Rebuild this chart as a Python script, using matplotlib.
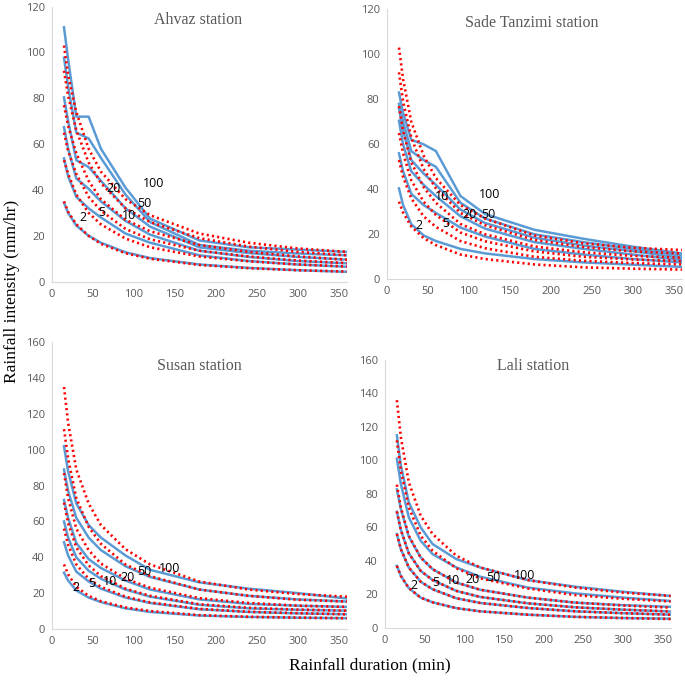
import matplotlib.pyplot as plt


durations = [15, 20, 30, 45, 60, 90, 120, 180, 240, 300, 360]
return_periods = ["2", "5", "10", "20", "50", "100"]

# observed (solid blue) and fitted (dotted red) intensities, rows = 2, 5, 10, 20, 50, 100 yr
ahvaz_obs = [
    [34.5, 30, 24.5, 20, 17, 12.8, 10.3, 7.5, 6, 5, 4.3],
    [53.8, 46, 37, 32, 28, 21, 17, 11.5, 9, 7.5, 6.5],
    [67.4, 58, 45, 40.5, 35, 26.5, 20.5, 13.5, 10.8, 9, 8],
    [80.4, 70, 53, 50, 44, 32, 24, 15, 12.5, 10.8, 9.6],
    [97.7, 85, 65, 62.5, 54, 38, 26, 16, 13.5, 12.3, 11.5],
    [111, 97, 72, 72, 58, 41, 27.5, 18, 15, 14, 13],
]
ahvaz_fit = [
    [35, 30.5, 25, 20, 16.5, 12.4, 10, 7.3, 5.9, 5, 4.4],
    [53, 47, 38, 30, 25, 18.8, 15, 11, 8.9, 7.5, 6.6],
    [65, 57, 47, 37, 31, 23, 18.5, 13.5, 11, 9.2, 8.1],
    [77, 68, 56, 44, 36, 27, 22, 16, 13, 11, 9.6],
    [92, 81, 66, 52, 43, 32, 26, 19, 15.3, 13, 11.5],
    [103, 90, 74, 58, 48, 36, 29, 21, 17, 14.5, 13],
]

sade_obs = [
    [40.4, 33, 24.5, 19.5, 17, 13.5, 11.5, 9, 7.5, 6.5, 5.5],
    [56, 48, 38, 33, 29.5, 23, 19, 13.5, 11, 9, 7.5],
    [70.5, 60, 48, 42, 37, 28, 22.5, 16.5, 13.5, 11, 8.5],
    [76, 66, 53, 47, 42, 31, 25, 18.5, 15, 12.5, 9.5],
    [78, 70, 57, 53, 50, 34, 27, 20, 16.5, 13.5, 10.5],
    [83, 74, 62, 60, 57, 37, 29, 22, 18, 14.5, 11.5],
]
sade_fit = [
    [34.5, 29.7, 23.5, 18.3, 15.2, 11, 9, 6.6, 5.3, 4.7, 4.3],
    [53, 45.5, 36, 28, 23.3, 17, 13.8, 10, 8.2, 7.2, 6.6],
    [65, 56, 44, 34.5, 28.6, 20.8, 16.9, 12.4, 10, 8.8, 8.1],
    [77, 66, 52, 41, 34, 24.6, 20, 14.6, 12, 10.4, 9.6],
    [92, 79, 63, 49, 40.5, 29.5, 24, 17.5, 14.3, 12.4, 11.5],
    [103, 89, 70, 55, 45, 33, 27, 19.5, 16, 14, 13],
]

susan_obs = [
    [31.4, 27, 21.5, 17.5, 15, 11.5, 9.5, 7.5, 6.7, 6.3, 6],
    [48.4, 41, 32, 26.5, 22.5, 17.5, 14.5, 11, 9.5, 8.7, 8.2],
    [60, 51, 40, 32.5, 28, 22, 18, 13.5, 11.5, 10.7, 10.2],
    [72, 62, 48, 39, 34, 27, 22, 16.5, 14, 13, 12.3],
    [89, 77, 62, 51, 44, 35, 29, 22, 18.5, 16.5, 15.3],
    [102, 88, 70, 58, 51, 41, 33, 26, 22.5, 20, 17],
]
susan_fit = [
    [36, 30.5, 23.5, 18.5, 15.5, 12, 10, 7.7, 6.8, 6.3, 6],
    [56, 47, 36, 28, 23.5, 18, 14.8, 11.2, 9.6, 8.8, 8.2],
    [70.5, 59, 45.5, 35.5, 29.5, 22.5, 18.5, 13.8, 11.8, 10.8, 10.2],
    [87, 73, 56, 44, 36.5, 28, 23, 17.2, 14.5, 13, 12.3],
    [111.5, 95, 73, 57, 47.5, 36, 29.5, 22, 18.5, 16.3, 15.3],
    [135, 115, 89, 70, 58, 44.5, 36, 26.5, 22, 19.5, 18],
]

lali_obs = [
    [37, 31, 23.7, 18, 15.2, 11.7, 9.8, 7.8, 6.5, 5.8, 5.4],
    [56, 47, 36, 27.5, 23, 17.6, 14.8, 11.8, 9.8, 8.7, 7.8],
    [69.3, 58.5, 44.5, 34, 28.5, 22, 18.4, 14.6, 12.2, 10.8, 9.7],
    [82.7, 71, 54.5, 42, 35, 27, 22.7, 18, 15, 13.5, 12.5],
    [101, 86, 66, 52, 44, 36, 30.5, 24, 20.5, 18, 16],
    [115, 97, 75, 60, 50, 41, 36, 28.5, 24.5, 21.5, 19],
]
lali_fit = [
    [37, 31, 23.7, 18, 15.2, 11.7, 9.8, 7.8, 6.5, 5.8, 5.2],
    [56, 47, 36, 27.5, 23, 17.6, 14.8, 11.8, 9.8, 8.7, 7.8],
    [69.5, 58.5, 44.5, 34, 28.5, 22, 18.4, 14.6, 12.2, 10.8, 9.7],
    [85.5, 72, 55, 42, 35, 27, 22.7, 18, 15, 13.3, 12],
    [112, 94, 72, 55, 46, 35.5, 29.5, 23.5, 19.5, 17.3, 15.7],
    [136, 114, 87, 67, 56, 43, 36, 28.5, 24, 21, 19],
]

# label positions (duration, intensity) for 2, 5, 10, 20, 50, 100
ahvaz_labels = [(38.5, 28), (61, 30), (94.5, 29), (75, 40.6), (112.6, 34), (124, 43)]
sade_labels = [(39.5, 24), (71.6, 25), (67, 36.7), (101, 28.6), (124, 29), (126, 37.6)]
susan_labels = [(29.6, 23.3), (48.8, 25.5), (71, 26.4), (92.6, 28.8), (112.6, 32), (143.5, 33.5)]
lali_labels = [(36.6, 25.5), (64, 27), (85.3, 28.1), (110.6, 29.1), (136.6, 30.1), (176.5, 31.5)]

stations = [
    ("Ahvaz station", ahvaz_obs, ahvaz_fit, ahvaz_labels, 120, [0.0755, 0.5888, 0.431, 0.4015], (0.497, 0.950)),
    ("Sade Tanzimi station", sade_obs, sade_fit, sade_labels, 120, [0.5645, 0.5923, 0.431, 0.394], (0.49, 0.950)),
    ("Susan station", susan_obs, susan_fit, susan_labels, 160, [0.0755, 0.0818, 0.431, 0.4185], (0.5, 0.918)),
    ("Lali station", lali_obs, lali_fit, lali_labels, 160, [0.562, 0.0836, 0.417, 0.3908], (0.52, 0.979)),
]

fig = plt.figure(figsize=(6.85, 6.85), dpi=100)

for title, obs, fit, labels, ymax, pos, title_xy in stations:
    ax = fig.add_axes(pos)

    for row in obs:
        ax.plot(durations, row, color="#5b9bd5", linewidth=1.8)
    for row in fit:
        ax.plot(durations, row, color="#ff0000", linewidth=1.9,
                linestyle=(0, (0.8, 1.2)), dash_capstyle="butt")

    for text, (x, y) in zip(return_periods, labels):
        ax.text(x, y, text, fontsize=9, family="Open Sans", color="black",
                ha="center", va="center")

    ax.text(title_xy[0], title_xy[1], title, transform=ax.transAxes,
            fontsize=11.5, family="Liberation Serif", color="#595959",
            ha="center", va="center")

    ax.set_xlim(0, 360)
    ax.set_ylim(0, ymax)
    ax.set_xticks(range(0, 351, 50))
    ax.set_yticks(range(0, ymax + 1, 20))
    ax.tick_params(length=0, labelsize=8, labelcolor="#595959", pad=5)
    for lab in ax.get_xticklabels() + ax.get_yticklabels():
        lab.set_family("Open Sans")

    for side in ["top", "right"]:
        ax.spines[side].set_visible(False)
    for side in ["left", "bottom"]:
        ax.spines[side].set_color("#d9d9d9")
        ax.spines[side].set_linewidth(0.8)

fig.text(0.018, 0.575, "Rainfall intensity (mm/hr)", rotation=90, fontsize=12.5,
         family="Liberation Serif", ha="center", va="center")
fig.text(0.54, 0.028, "Rainfall duration (min)", fontsize=12.5,
         family="Liberation Serif", ha="center", va="center")

plt.savefig("out.png", dpi=100)
